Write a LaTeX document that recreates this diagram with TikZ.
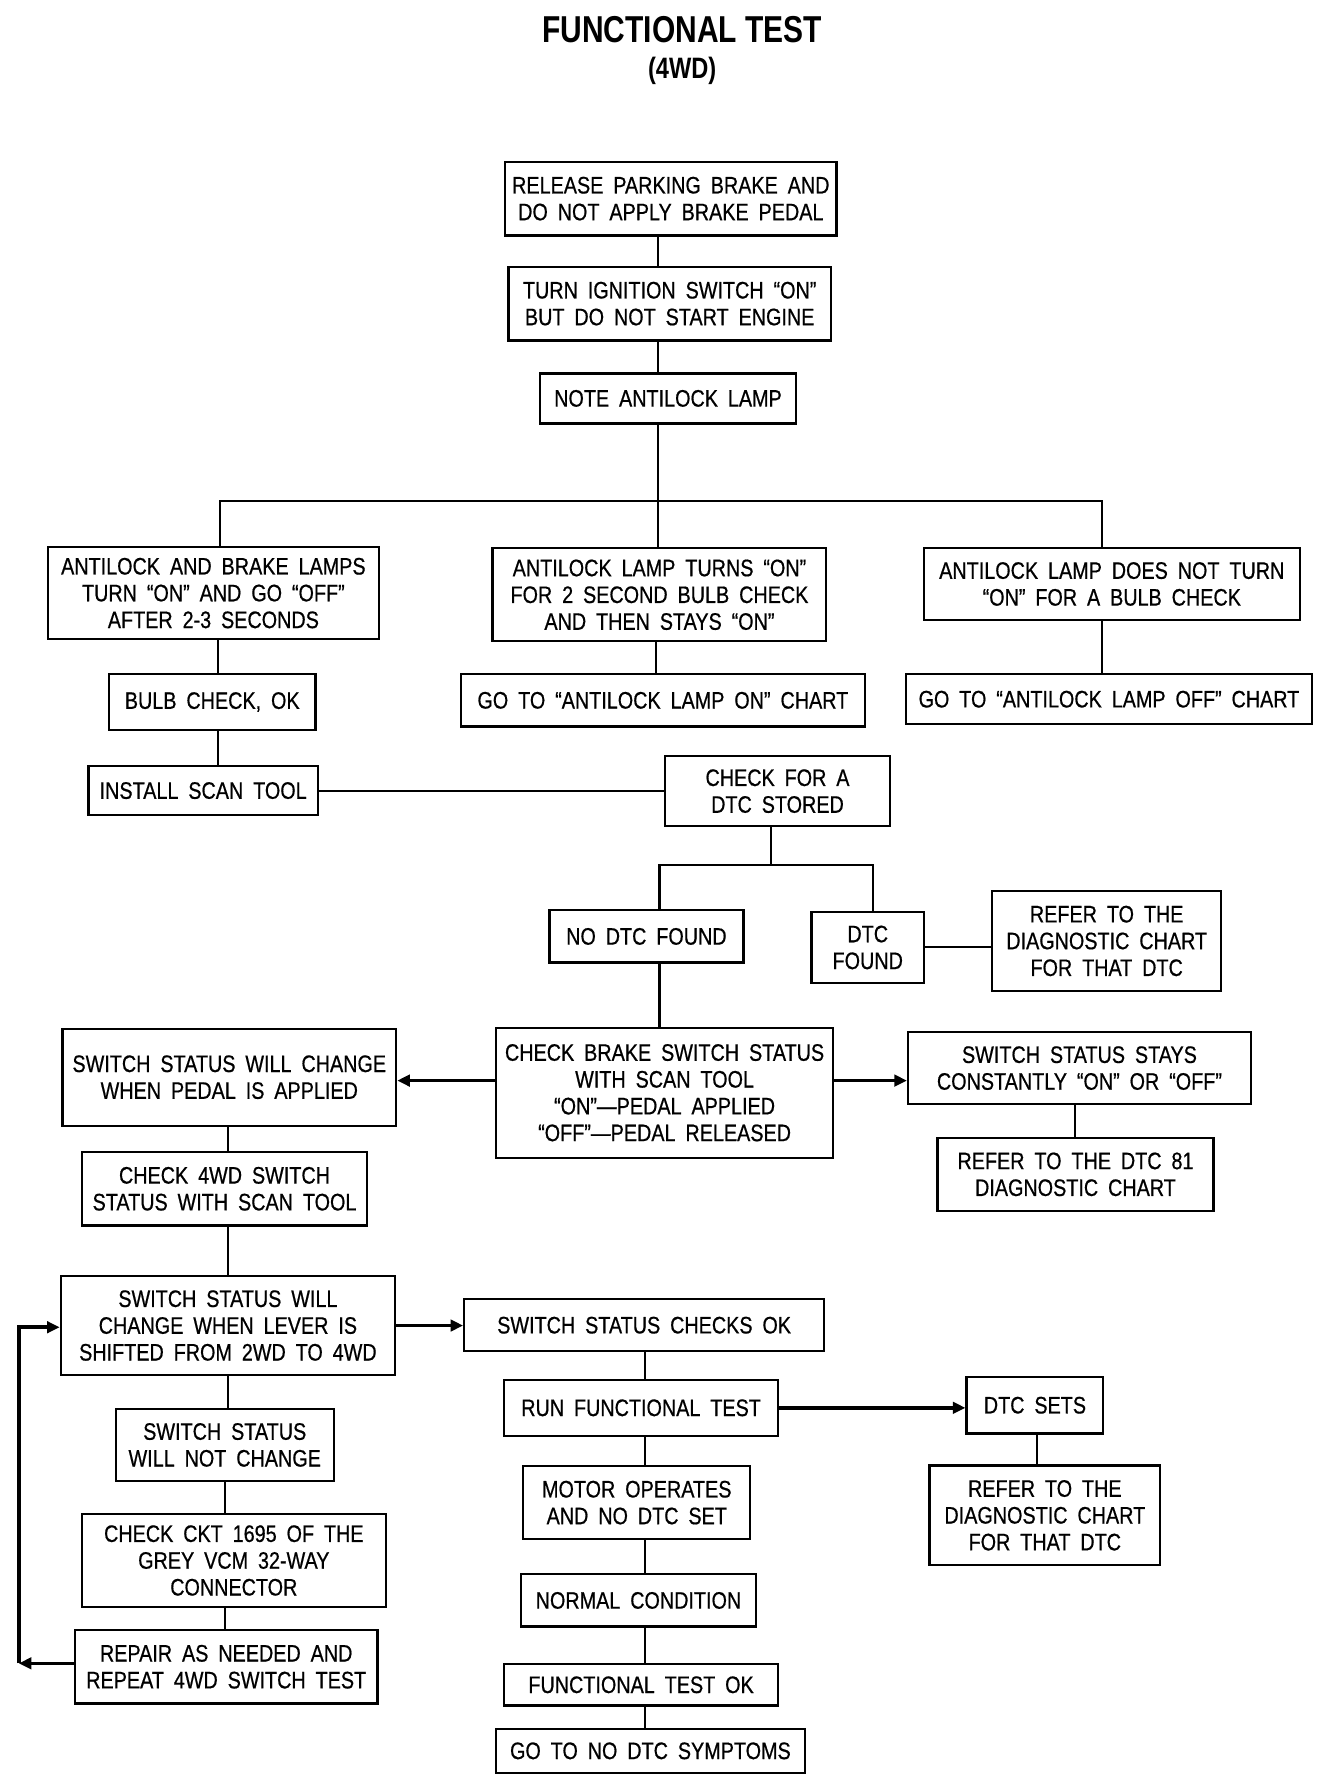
\documentclass[tikz,border=0pt]{standalone}
\usepackage{fontspec}
\setmainfont{Liberation Sans}
\newfontfamily\boxfont{Liberation Sans}[FakeStretch=0.83,FakeBold=0.6,WordSpace=1.8,Ligatures=TeX]
\newfontfamily\headfont{Liberation Sans}[FakeStretch=0.8]
\usetikzlibrary{arrows.meta}

\begin{document}
\begin{tikzpicture}[x=1pt,y=-1pt,
  blk/.style={draw,line width=2pt,align=center,inner sep=1pt,font=\boxfont\fontsize{21}{23.6}\selectfont},
  ln/.style={line width=1.8pt},
  arr/.style={line width=3.2pt,-{Triangle[length=11pt,width=10pt]}}]
\fill[white] (0,0) rectangle (1184,1577);
\useasboundingbox (0,0) rectangle (1184,1577);
% title
\node[font=\headfont\bfseries\fontsize{33}{36}\selectfont] (title) at (601,26) {FUNCTIONAL TEST};
\node[font=\headfont\bfseries\fontsize{26}{30}\selectfont] (sub) at (601,62) {(4WD)};
% top chain
\node[blk,minimum width=292pt,minimum height=65pt] (rel) at (591,175) {RELEASE PARKING BRAKE AND\\DO NOT APPLY BRAKE PEDAL};
\node[blk,minimum width=284pt,minimum height=65pt] (ign) at (590,267.5) {TURN IGNITION SWITCH ``ON''\\BUT DO NOT START ENGINE};
\node[blk,minimum width=225pt,minimum height=44pt] (note) at (588.5,351) {NOTE ANTILOCK LAMP};
% lamp results
\node[blk,minimum width=292pt,minimum height=81pt] (lampok) at (188,522.5) {ANTILOCK AND BRAKE LAMPS\\TURN ``ON'' AND GO ``OFF''\\AFTER 2-3 SECONDS};
\node[blk,minimum width=294pt,minimum height=82pt] (lampon) at (581,524) {ANTILOCK LAMP TURNS ``ON''\\FOR 2 SECOND BULB CHECK\\AND THEN STAYS ``ON''};
\node[blk,minimum width=331pt,minimum height=63pt] (lampoff) at (979.5,514.5) {ANTILOCK LAMP DOES NOT TURN\\``ON'' FOR A BULB CHECK};
\node[blk,minimum width=182pt,minimum height=49pt] (bulb) at (187,618.5) {BULB CHECK, OK};
\node[blk,minimum width=356pt,minimum height=46pt] (gon) at (584,617) {GO TO ``ANTILOCK LAMP ON'' CHART};
\node[blk,minimum width=358pt,minimum height=44pt] (goff) at (977,616) {GO TO ``ANTILOCK LAMP OFF'' CHART};
\node[blk,minimum width=202pt,minimum height=43pt] (scan) at (179,696.5) {INSTALL SCAN TOOL};
\node[blk,minimum width=198pt,minimum height=62pt] (dtc) at (685,697) {CHECK FOR A\\DTC STORED};
% dtc check
\node[blk,minimum width=171pt,minimum height=46pt] (nodtc) at (569.5,825) {NO DTC FOUND};
\node[blk,minimum width=99pt,minimum height=62pt] (found) at (764.5,834.7) {DTC\\FOUND};
\node[blk,minimum width=202pt,minimum height=88pt] (refa) at (975,829) {REFER TO THE\\DIAGNOSTIC CHART\\FOR THAT DTC};
% brake switch
\node[blk,minimum width=297pt,minimum height=114.5pt] (brake) at (585.5,962.7) {CHECK BRAKE SWITCH STATUS\\WITH SCAN TOOL\\``ON''---PEDAL APPLIED\\``OFF''---PEDAL RELEASED};
\node[blk,minimum width=294pt,minimum height=85.5pt] (pedal) at (202,949) {SWITCH STATUS WILL CHANGE\\WHEN PEDAL IS APPLIED};
\node[blk,minimum width=302pt,minimum height=63.5pt] (stays) at (951,941) {SWITCH STATUS STAYS\\CONSTANTLY ``ON'' OR ``OFF''};
\node[blk,minimum width=243pt,minimum height=64pt] (dtc81) at (947.5,1034.6) {REFER TO THE DTC 81\\DIAGNOSTIC CHART};
% 4wd switch
\node[blk,minimum width=251.5pt,minimum height=64.6pt] (sw4) at (197.8,1047.3) {CHECK 4WD SWITCH\\STATUS WITH SCAN TOOL};
\node[blk,minimum width=294.5pt,minimum height=87.6pt] (lever) at (200.8,1167.8) {SWITCH STATUS WILL\\CHANGE WHEN LEVER IS\\SHIFTED FROM 2WD TO 4WD};
\node[blk,minimum width=192pt,minimum height=64pt] (nochg) at (198,1273) {SWITCH STATUS\\WILL NOT CHANGE};
\node[blk,minimum width=268pt,minimum height=82.5pt] (ckt) at (206,1374.8) {CHECK CKT 1695 OF THE\\GREY VCM 32-WAY\\CONNECTOR};
\node[blk,minimum width=266.6pt,minimum height=64.7pt] (rep) at (199.3,1468.4) {REPAIR AS NEEDED AND\\REPEAT 4WD SWITCH TEST};
% functional test
\node[blk,minimum width=317pt,minimum height=46pt] (chkok) at (567.5,1167.5) {SWITCH STATUS CHECKS OK};
\node[blk,minimum width=241.5pt,minimum height=49.4pt] (runft) at (564.8,1240.3) {RUN FUNCTIONAL TEST};
\node[blk,minimum width=120.5pt,minimum height=50pt] (sets) at (911.8,1238) {DTC SETS};
\node[blk,minimum width=203pt,minimum height=88pt] (refb) at (920.5,1335) {REFER TO THE\\DIAGNOSTIC CHART\\FOR THAT DTC};
\node[blk,minimum width=200pt,minimum height=64.3pt] (motor) at (561,1323.8) {MOTOR OPERATES\\AND NO DTC SET};
\node[blk,minimum width=207pt,minimum height=46pt] (norm) at (562.5,1410) {NORMAL CONDITION};
\node[blk,minimum width=241.5pt,minimum height=36.6pt] (ftok) at (564.8,1484.3) {FUNCTIONAL TEST OK};
\node[blk,minimum width=272pt,minimum height=39pt] (symp) at (573,1542.5) {GO TO NO DTC SYMPTOMS};
% connectors
\coordinate (trunk) at (580,0);
\coordinate (brA) at (194,441.6); \coordinate (brB) at (580,441.6); \coordinate (brC) at (971,441.6);
\coordinate (colA) at (192,0); \coordinate (colB) at (578,0); \coordinate (colC) at (971,0);
\coordinate (spA) at (581,762); \coordinate (spM) at (679,762); \coordinate (spB) at (769,762);
\coordinate (ay) at (0,952);
\coordinate (colD) at (947,0); \coordinate (colE) at (201,0); \coordinate (colF) at (568,0);
\coordinate (colG) at (914,0); \coordinate (colH) at (198,0);
\coordinate (lpB) at (16.6,1465.4); \coordinate (lpT) at (16.6,1169.3);
\draw[ln] (rel.south -| trunk) -- (ign.north -| trunk);
\draw[ln] (ign.south -| trunk) -- (note.north -| trunk);
\draw[ln] (note.south -| brB) -- (brB) -- (lampon.north -| brB);
\draw[ln] (lampok.north -| brA) -- (brA) -- (brC) -- (lampoff.north -| brC);
\draw[ln] (lampok.south -| colA) -- (bulb.north -| colA);
\draw[ln] (bulb.south -| colA) -- (scan.north -| colA);
\draw[ln] (lampon.south -| colB) -- (gon.north -| colB);
\draw[ln] (lampoff.south -| colC) -- (goff.north -| colC);
\draw[ln] (scan.east) -- (scan.east -| dtc.west);
\draw[ln] (dtc.south -| spM) -- (spM);
\draw[ln] (nodtc.north -| spA) -- (spA) -- (spB) -- (found.north -| spB);
\draw[ln] (found.east) -- (found.east -| refa.west);
\draw[ln] (nodtc.south -| spA) -- (brake.north -| spA);
\draw[arr] (brake.west |- ay) -- (pedal.east |- ay);
\draw[arr] (brake.east |- ay) -- (stays.west |- ay);
\draw[ln] (stays.south -| colD) -- (dtc81.north -| colD);
\draw[ln] (pedal.south -| colE) -- (sw4.north -| colE);
\draw[ln] (sw4.south -| colE) -- (lever.north -| colE);
\draw[ln] (lever.south -| colE) -- (nochg.north -| colE);
\draw[ln] (nochg.south -| colH) -- (ckt.north -| colH);
\draw[ln] (ckt.south -| colH) -- (rep.north -| colH);
\draw[arr] (rep.west |- lpB) -- (lpB);
\draw[arr] (lpB) -- (lpT) -- (lever.west |- lpT);
\draw[arr] (lever.east) -- (lever.east -| chkok.west);
\draw[ln] (chkok.south -| colF) -- (runft.north -| colF);
\draw[ln] (runft.south -| colF) -- (motor.north -| colF);
\draw[ln] (motor.south -| colF) -- (norm.north -| colF);
\draw[ln] (norm.south -| colF) -- (ftok.north -| colF);
\draw[ln] (ftok.south -| colF) -- (symp.north -| colF);
\draw[arr] (runft.east) -- (runft.east -| sets.west);
\draw[ln] (sets.south -| colG) -- (refb.north -| colG);
\end{tikzpicture}
\end{document}
